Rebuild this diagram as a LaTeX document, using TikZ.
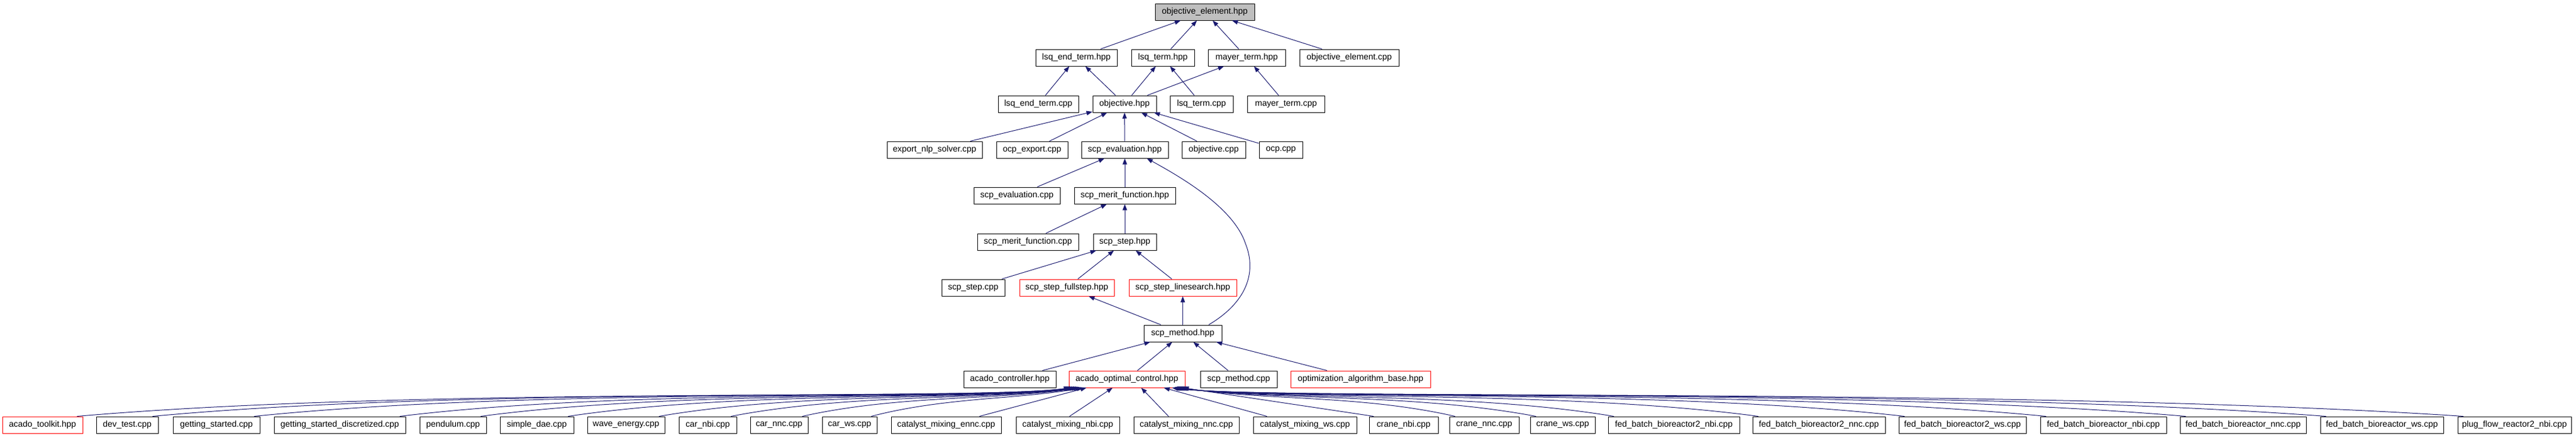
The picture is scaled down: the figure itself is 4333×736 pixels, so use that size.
\documentclass[tikz,border=0pt]{standalone}
\usepackage{fontspec}
\setmainfont{Liberation Sans}
\usetikzlibrary{arrows.meta,calc}
\definecolor{edgeblue}{HTML}{191970}
\definecolor{redb}{HTML}{FF0000}
\definecolor{topgray}{HTML}{BFBFBF}
\begin{document}
\begin{tikzpicture}[x=0.75pt,y=-0.75pt,
 box/.style={draw=black,line width=0.75pt,fill=white,minimum height=21pt,inner sep=0pt,font=\fontsize{10.8}{12}\selectfont,anchor=center},
 redbox/.style={box,draw=redb},
 topbox/.style={box,fill=topgray},
 bw/.style={minimum width=#1*0.75pt},
 inc/.style={draw=edgeblue,line width=0.75pt,-{Triangle[length=7.5pt,width=5.5pt]}}
]
\useasboundingbox[fill=white] (0,0) rectangle (4333,736);
% row 1
\node[topbox,bw=167] (oeh) at (2026.5,20) {objective\_element.hpp};
% row 2
\node[box,bw=137] (lsqendh) at (1810.5,97) {lsq\_end\_term.hpp};
\node[box,bw=106] (lsqh) at (1956,97) {lsq\_term.hpp};
\node[box,bw=130] (mayerh) at (2097,97) {mayer\_term.hpp};
\node[box,bw=167] (oecpp) at (2269.5,97) {objective\_element.cpp};
% row 3
\node[box,bw=135] (lsqendcpp) at (1746.5,175) {lsq\_end\_term.cpp};
\node[box,bw=107] (objh) at (1891.5,175) {objective.hpp};
\node[box,bw=106] (lsqcpp) at (2021,175) {lsq\_term.cpp};
\node[box,bw=130] (mayercpp) at (2163,175) {mayer\_term.cpp};
% row 4
\node[box,bw=160] (exportnlp) at (1572,252) {export\_nlp\_solver.cpp};
\node[box,bw=120] (ocpexport) at (1736,252) {ocp\_export.cpp};
\node[box,bw=146] (scpevalh) at (1892,252) {scp\_evaluation.hpp};
\node[box,bw=107] (objcpp) at (2041.5,252) {objective.cpp};
\node[box,bw=73] (ocpcpp) at (2154.5,252) {ocp.cpp};
% row 5
\node[box,bw=145] (scpevalcpp) at (1710.5,329) {scp\_evaluation.cpp};
\node[box,bw=170] (meritfh) at (1892,329) {scp\_merit\_function.hpp};
% row 6
\node[box,bw=170] (meritcpp) at (1729,407) {scp\_merit\_function.cpp};
\node[box,bw=106] (steph) at (1892,407) {scp\_step.hpp};
% row 7
\node[box,bw=106] (stepcpp) at (1637,484) {scp\_step.cpp};
\node[redbox,bw=159] (fullh) at (1794.5,484) {scp\_step\_fullstep.hpp};
\node[redbox,bw=181] (lineh) at (1989.5,484) {scp\_step\_linesearch.hpp};
% row 8
\node[box,bw=131] (methh) at (1989.5,561) {scp\_method.hpp};
% row 9
\node[box,bw=155] (ctrlh) at (1698.5,638) {acado\_controller.hpp};
\node[redbox,bw=195] (aoch) at (1895.5,638) {acado\_optimal\_control.hpp};
\node[box,bw=129] (methcpp) at (2083.5,638) {scp\_method.cpp};
\node[redbox,bw=235] (oabh) at (2288.5,638) {optimization\_algorithm\_base.hpp};
% row 10
\node[redbox,bw=135] (b1) at (71.5,715) {acado\_toolkit.hpp};
\node[box,bw=104] (b2) at (214,715) {dev\_test.cpp};
\node[box,bw=146] (b3) at (364,715) {getting\_started.cpp};
\node[box,bw=221] (b4) at (571.5,715) {getting\_started\_discretized.cpp};
\node[box,bw=112] (b5) at (762,715) {pendulum.cpp};
\node[box,bw=124] (b6) at (903,715) {simple\_dae.cpp};
\node[box,bw=130] (b7) at (1053,715) {wave\_energy.cpp};
\node[box,bw=97] (b8) at (1190.5,715) {car\_nbi.cpp};
\node[box,bw=97] (b9) at (1310.5,715) {car\_nnc.cpp};
\node[box,bw=92] (b10) at (1429,715) {car\_ws.cpp};
\node[box,bw=185] (b11) at (1591.5,715) {catalyst\_mixing\_ennc.cpp};
\node[box,bw=174] (b12) at (1796,715) {catalyst\_mixing\_nbi.cpp};
\node[box,bw=177] (b13) at (1995.5,715) {catalyst\_mixing\_nnc.cpp};
\node[box,bw=174] (b14) at (2195,715) {catalyst\_mixing\_ws.cpp};
\node[box,bw=116] (b15) at (2361,715) {crane\_nbi.cpp};
\node[box,bw=117] (b16) at (2496.5,715) {crane\_nnc.cpp};
\node[box,bw=109] (b17) at (2628.5,715) {crane\_ws.cpp};
\node[box,bw=221] (b18) at (2815.5,715) {fed\_batch\_bioreactor2\_nbi.cpp};
\node[box,bw=223] (b19) at (3059.5,715) {fed\_batch\_bioreactor2\_nnc.cpp};
\node[box,bw=214] (b20) at (3301,715) {fed\_batch\_bioreactor2\_ws.cpp};
\node[box,bw=212] (b21) at (3538,715) {fed\_batch\_bioreactor\_nbi.cpp};
\node[box,bw=212] (b22) at (3773,715) {fed\_batch\_bioreactor\_nnc.cpp};
\node[box,bw=207] (b23) at (4006.5,715) {fed\_batch\_bioreactor\_ws.cpp};
\node[box,bw=191] (b24) at (4229.5,715) {plug\_flow\_reactor2\_nbi.cpp};
% upper edges
\draw[inc] (lsqendh) -- (oeh);
\draw[inc] (lsqh) -- (oeh);
\draw[inc] (mayerh) -- (oeh);
\draw[inc] (oecpp) -- (oeh);
\draw[inc] (lsqendcpp) -- (lsqendh);
\draw[inc] (objh) -- (lsqendh);
\draw[inc] (objh) -- (lsqh);
\draw[inc] (lsqcpp) -- (lsqh);
\draw[inc] (objh) -- (mayerh);
\draw[inc] (mayercpp) -- (mayerh);
\draw[inc] (exportnlp) -- (objh);
\draw[inc] (ocpexport) -- (objh);
\draw[inc] (scpevalh) -- (objh);
\draw[inc] (objcpp) -- (objh);
\draw[inc] (ocpcpp) -- (objh);
\draw[inc] (scpevalcpp) -- (scpevalh);
\draw[inc] (meritfh) -- (scpevalh);
\draw[inc] (meritcpp) -- (meritfh);
\draw[inc] (steph) -- (meritfh);
\draw[inc] (stepcpp) -- (steph);
\draw[inc] (fullh) -- (steph);
\draw[inc] (lineh) -- (steph);
\draw[inc] (methh) -- (fullh);
\draw[inc] (methh) -- (lineh);
\draw[inc] ($(methh.north)+(43.5,0)$) .. controls (2095,510) and (2115,460) .. (2095,410)
  .. controls (2075,350) and (1990,300) .. ($(scpevalh.south)+(37,0)$);
\draw[inc] (ctrlh) -- (methh);
\draw[inc] (aoch) -- (methh);
\draw[inc] (methcpp) -- (methh);
\draw[inc] (oabh) -- (methh);
% bottom edges, left group
\draw[inc] ($(b1.north east)+(-10,0)$) .. controls (714,650) and (1650,674) .. ($(aoch.south west)+(2,0)$);
\draw[inc] ($(b2.north east)+(-10,0)$) .. controls (797,650) and (1652,674) .. ($(aoch.south west)+(4,0)$);
\draw[inc] ($(b3.north east)+(-10,0)$) .. controls (909,651) and (1654,674) .. ($(aoch.south west)+(6,0)$);
\draw[inc] ($(b4.north east)+(-10,0)$) .. controls (1069,652) and (1656,674) .. ($(aoch.south west)+(8,0)$);
\draw[inc] ($(b5.north east)+(-10,0)$) .. controls (1158,654) and (1658,674) .. ($(aoch.south west)+(10,0)$);
\draw[inc] ($(b6.north east)+(-10,0)$) .. controls (1254,656) and (1660,674) .. ($(aoch.south west)+(12,0)$);
\draw[inc] ($(b7.north east)+(-10,0)$) .. controls (1355,658) and (1663,674) .. ($(aoch.south west)+(15,0)$);
\draw[inc] ($(b8.north east)+(-10,0)$) .. controls (1434,661) and (1666,674) .. ($(aoch.south west)+(18,0)$);
\draw[inc] ($(b9.north east)+(-10,0)$) .. controls (1513,664) and (1678,674) .. ($(aoch.south west)+(21,0)$);
\draw[inc] ($(b10.north east)+(-10,0)$) .. controls (1590,668) and (1715,672) .. ($(aoch.south west)+(24,0)$);
% bottom edges, straight
\draw[inc] ($(b11.north)+(56,0)$) -- ($(aoch.south)+(-68,0)$);
\draw[inc] ($(b12.north)+(3,0)$) -- ($(aoch.south)+(-24,0)$);
\draw[inc] ($(b13.north)+(-30,0)$) -- ($(aoch.south)+(24,0)$);
\draw[inc] ($(b14.north)+(-64,0)$) -- ($(aoch.south)+(62,0)$);
\draw[inc] ($(b15.north west)+(8,0)$) -- ($(aoch.south east)+(-4,0)$);
% bottom edges, right group
\draw[inc] ($(b16.north west)+(10,0)$) .. controls (2287,664) and (2125,674) .. ($(aoch.south east)+(-6,0)$);
\draw[inc] ($(b17.north west)+(10,0)$) .. controls (2374,661) and (2135,674) .. ($(aoch.south east)+(-8,0)$);
\draw[inc] ($(b18.north west)+(10,0)$) .. controls (2459,658) and (2133,674) .. ($(aoch.south east)+(-10,0)$);
\draw[inc] ($(b19.north west)+(10,0)$) .. controls (2616,655) and (2131,674) .. ($(aoch.south east)+(-12,0)$);
\draw[inc] ($(b20.north west)+(10,0)$) .. controls (2775,652) and (2129,674) .. ($(aoch.south east)+(-14,0)$);
\draw[inc] ($(b21.north west)+(10,0)$) .. controls (2929,651) and (2127,674) .. ($(aoch.south east)+(-16,0)$);
\draw[inc] ($(b22.north west)+(10,0)$) .. controls (3081,650) and (2125,674) .. ($(aoch.south east)+(-18,0)$);
\draw[inc] ($(b23.north west)+(10,0)$) .. controls (3234,650) and (2123,674) .. ($(aoch.south east)+(-20,0)$);
\draw[inc] ($(b24.north west)+(10,0)$) .. controls (3383,650) and (2121,674) .. ($(aoch.south east)+(-22,0)$);
\end{tikzpicture}
\end{document}
